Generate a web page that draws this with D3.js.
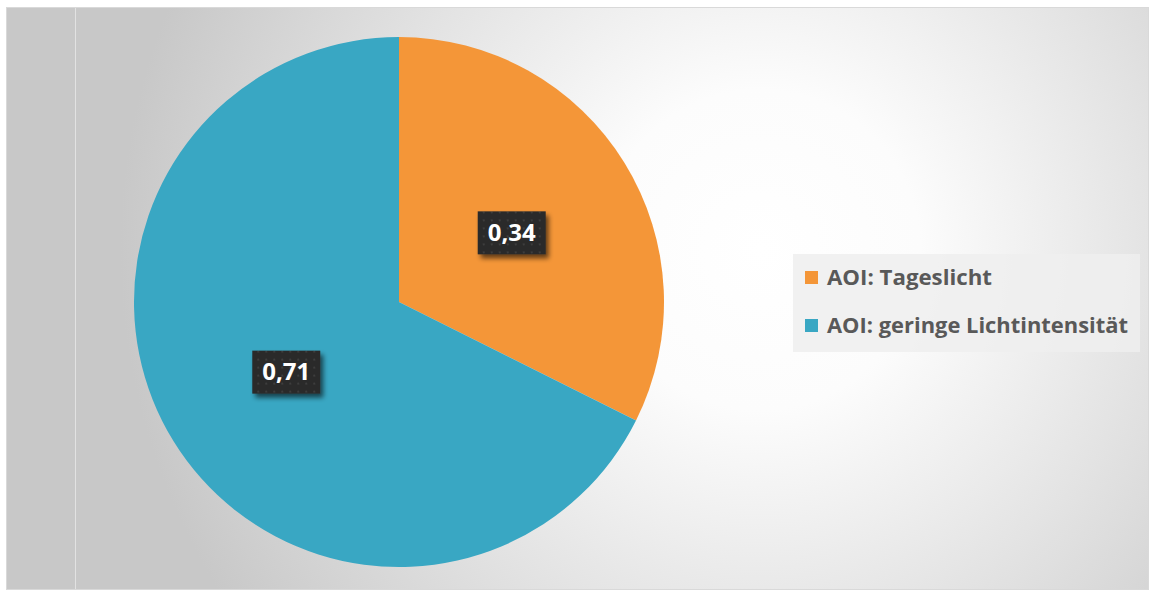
<!DOCTYPE html>
<html><head><meta charset="utf-8">
<script src="https://cdn.jsdelivr.net/npm/d3@7"></script>
<style>html,body{margin:0;padding:0;background:#fff;}svg{display:block;}</style>
</head><body>
<svg id="chart" width="1153" height="594"></svg>
<script>
const categories = ["AOI: Tageslicht", "AOI: geringe Lichtintensität"];
const values = [0.34, 0.71];
const valueLabels = ["0,34", "0,71"];
const colors = ["#F49638", "#39A7C3"];

const svg = d3.select("#chart");
const defs = svg.append("defs");

const rg = defs.append("radialGradient").attr("id","bg")
  .attr("gradientUnits","userSpaceOnUse")
  .attr("cx",760).attr("cy",250).attr("r",640);
rg.append("stop").attr("offset","0").attr("stop-color","#ffffff");
rg.append("stop").attr("offset","0.25").attr("stop-color","#fcfcfc");
rg.append("stop").attr("offset","0.6").attr("stop-color","#e4e4e4");
rg.append("stop").attr("offset","1").attr("stop-color","#c8c8c8");

const pat = defs.append("pattern").attr("id","dots").attr("patternUnits","userSpaceOnUse")
  .attr("width",8).attr("height",8);
pat.append("rect").attr("width",8).attr("height",8).attr("fill","#2a2a2a");
pat.append("rect").attr("x",3).attr("y",3).attr("width",2).attr("height",2).attr("fill","#3d3d3d");

const sh = defs.append("filter").attr("id","shadow").attr("x","-30%").attr("y","-30%").attr("width","170%").attr("height","170%");
sh.append("feGaussianBlur").attr("in","SourceAlpha").attr("stdDeviation",2.5).attr("result","b");
sh.append("feOffset").attr("in","b").attr("dx",3).attr("dy",4).attr("result","o");
sh.append("feComponentTransfer").attr("in","o").attr("result","o2")
  .append("feFuncA").attr("type","linear").attr("slope",0.6);
const m = sh.append("feMerge");
m.append("feMergeNode").attr("in","o2");
m.append("feMergeNode").attr("in","SourceGraphic");

// chart area
svg.append("rect").attr("x",6.5).attr("y",7.5).attr("width",1142).attr("height",582)
  .attr("fill","url(#bg)").attr("stroke","#d9d9d9").attr("stroke-width",1);
svg.append("line").attr("x1",75.5).attr("x2",75.5).attr("y1",8).attr("y2",589)
  .attr("stroke","#e2e2e2").attr("stroke-width",1);

const cx = 399, cy = 302, R = 265;
const pie = d3.pie().sort(null).value(d => d);
const arcs = pie(values);
const arc = d3.arc().innerRadius(0).outerRadius(R);
const labelArc = d3.arc().innerRadius(R*0.5).outerRadius(R*0.5);

const g = svg.append("g").attr("transform",`translate(${cx},${cy})`);
g.selectAll("path.slice").data(arcs).join("path").attr("class","slice")
  .attr("d",arc).attr("fill",(d,i)=>colors[i]);

const lg = g.selectAll("g.lbl").data(arcs).join("g").attr("class","lbl")
  .attr("transform",d=>{const c=labelArc.centroid(d);return `translate(${c[0]},${c[1]})`;});
lg.append("rect").attr("x",-34).attr("y",-21).attr("width",68).attr("height",43)
  .attr("fill","url(#dots)").attr("filter","url(#shadow)");
lg.append("text").attr("text-anchor","middle").attr("dy","0.36em")
  .attr("font-family","'Open Sans', sans-serif").attr("font-weight","bold")
  .attr("font-size",23).attr("fill","#ffffff")
  .attr("textLength",48).attr("lengthAdjust","spacingAndGlyphs")
  .text((d,i)=>valueLabels[i]);

// legend
const leg = svg.append("g");
leg.append("rect").attr("x",793).attr("y",254).attr("width",347).attr("height",98)
  .attr("fill","#eeeeee").attr("fill-opacity",0.85);
const li = leg.selectAll("g.item").data(categories).join("g").attr("class","item")
  .attr("transform",(d,i)=>`translate(805,${277.5 + i*48})`);
li.append("rect").attr("x",0).attr("y",-6.5).attr("width",13).attr("height",13)
  .attr("fill",(d,i)=>colors[i]);
li.append("text").attr("x",22).attr("dy","0.36em")
  .attr("font-family","'Open Sans', sans-serif").attr("font-weight","bold")
  .attr("font-size",22).attr("fill","#595959")
  .attr("textLength",(d,i)=> i===0 ? 165 : 301).attr("lengthAdjust","spacingAndGlyphs")
  .text(d=>d);
</script>
</body></html>
